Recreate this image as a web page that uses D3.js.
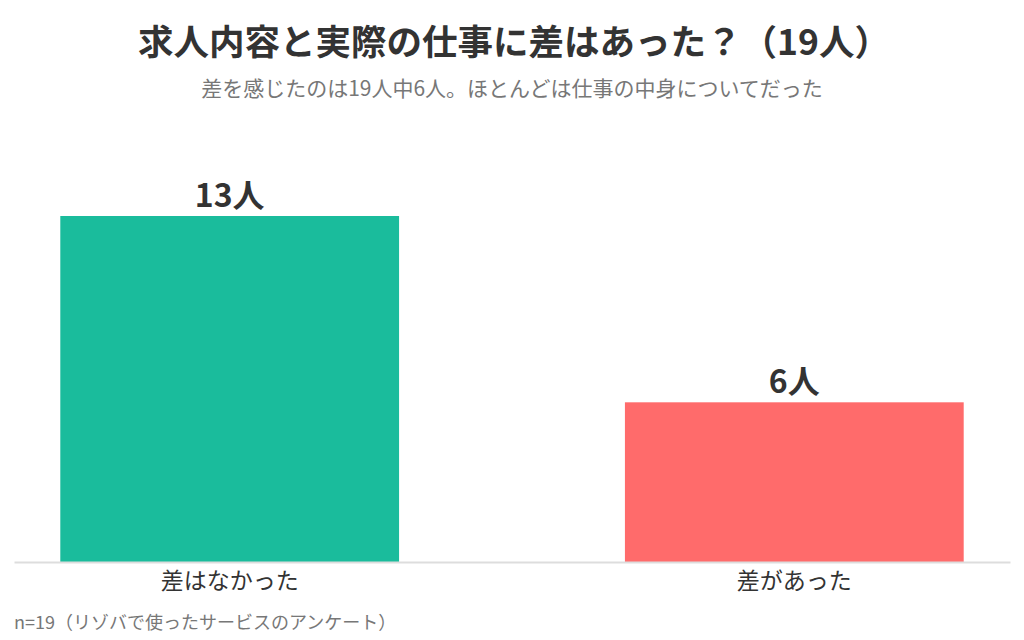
<!DOCTYPE html>
<html><head><meta charset="utf-8">
<script src="https://cdn.jsdelivr.net/npm/d3@7"></script>
<style>
body{margin:0;background:#fff;}
svg{display:block;font-family:"Noto Sans CJK JP","Noto Sans",sans-serif;}
</style></head>
<body><svg id="c" width="1024" height="640"></svg>
<script>
const categories = ["差はなかった", "差があった"];
const values = [13, 6];
const valueLabels = ["13人", "6人"];
const colors = ["#1abc9c", "#ff6b6b"];
const titleText = "求人内容と実際の仕事に差はあった？（19人）";
const subtitleText = "差を感じたのは19人中6人。ほとんどは仕事の中身についてだった";
const noteText = "n=19（リゾバで使ったサービスのアンケート）";

const svg = d3.select("#c");
const W = 1024, H = 640;
const x0 = 14, x1 = 1010, baseY = 562;

const x = d3.scaleBand().domain(categories).range([x0, x1]).paddingInner(0.4).paddingOuter(0.082);
const y = d3.scaleLinear().domain([0, 13]).range([baseY, 216]);

svg.append("text").attr("x", 514).attr("y", 55).attr("text-anchor","middle")
  .attr("font-size", 35.5).attr("font-weight", 700).attr("fill","#333").text(titleText);
svg.append("text").attr("x", 512).attr("y", 96).attr("text-anchor","middle")
  .attr("font-size", 21).attr("fill","#777").text(subtitleText);

svg.selectAll("rect.bar").data(values).join("rect").attr("class","bar")
  .attr("x",(d,i)=>x(categories[i])).attr("width",x.bandwidth())
  .attr("y",d=>y(d)).attr("height",d=>baseY-y(d)).attr("fill",(d,i)=>colors[i]);

svg.selectAll("text.val").data(values).join("text").attr("class","val")
  .attr("x",(d,i)=>x(categories[i])+x.bandwidth()/2).attr("y",d=>y(d)-9)
  .attr("text-anchor","middle").attr("font-size",32).attr("font-weight",700).attr("fill","#333")
  .text((d,i)=>valueLabels[i]);

const ax = svg.append("g").attr("transform",`translate(0,${baseY})`)
  .call(d3.axisBottom(x).tickSize(0).tickPadding(11));
ax.select(".domain").attr("stroke","#ddd").attr("stroke-width",2);
ax.selectAll("text").attr("font-size",23).attr("fill","#333")
  .attr("font-family",'"Noto Sans CJK JP","Noto Sans",sans-serif');

svg.append("text").attr("x", 14).attr("y", 629).attr("font-size", 18).attr("fill","#777").text(noteText);
</script></body></html>
